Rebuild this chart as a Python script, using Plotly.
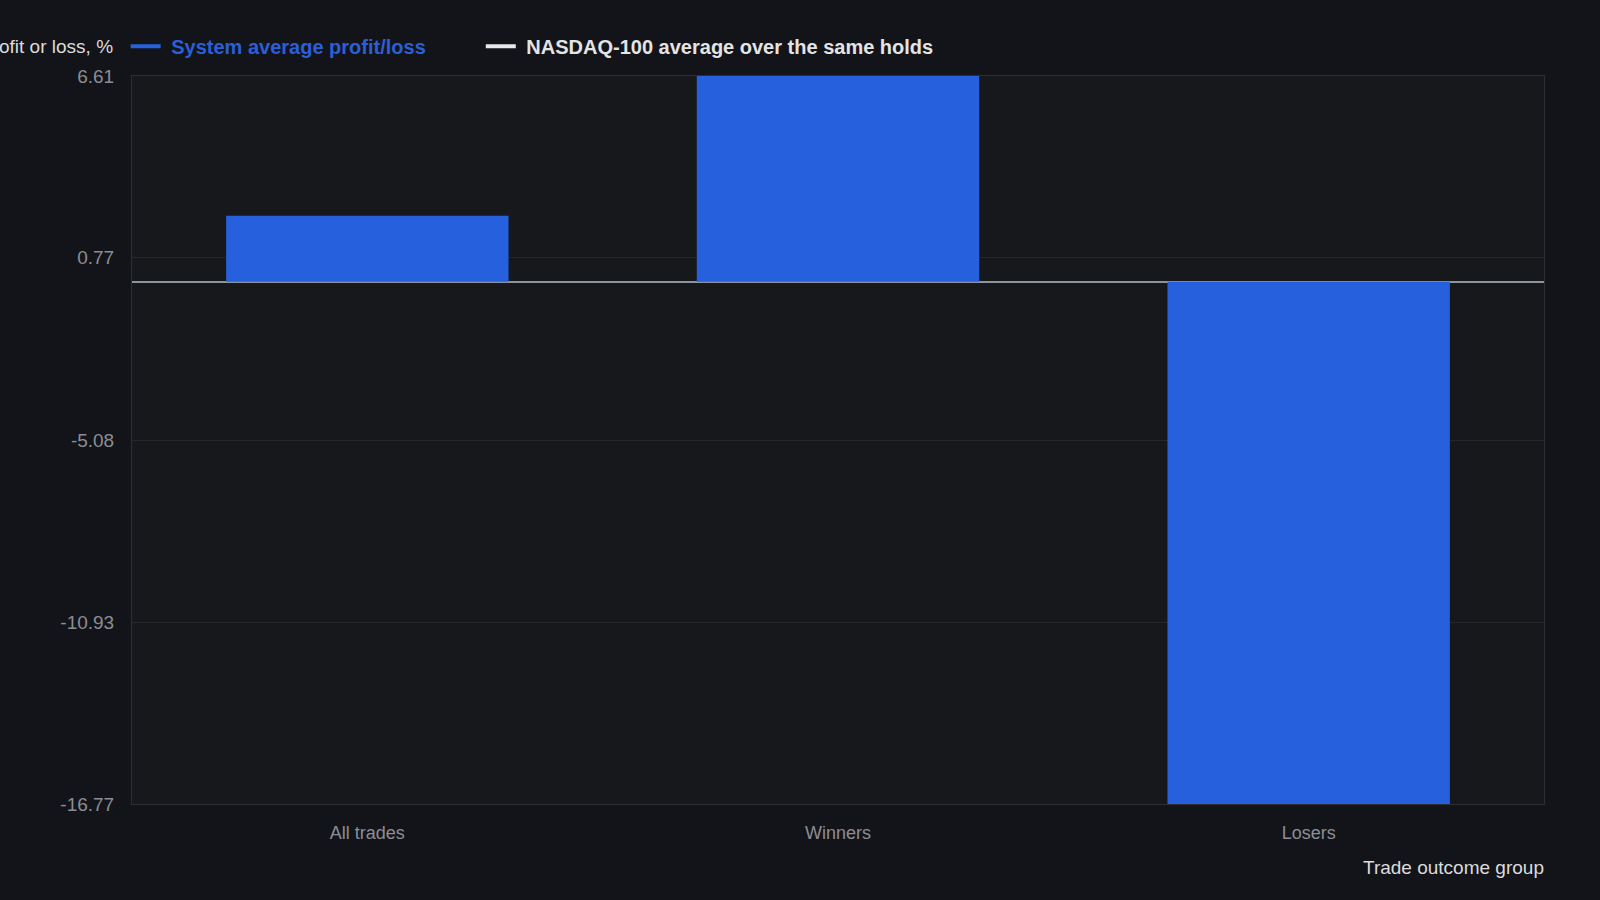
import plotly.graph_objects as go

# Average profit/loss per trade outcome group
categories = ["All trades", "Winners", "Losers"]
system_avg = [2.12, 6.61, -16.77]
nasdaq_avg = [None, None, None]  # not visible in the chart

y_ticks = [6.61, 0.77, -5.08, -10.93, -16.77]
y_tick_labels = ["6.61", "0.77", "-5.08", "-10.93", "-16.77"]

BLUE = "#2760dc"
FONT = "Liberation Sans, Arial, sans-serif"

fig = go.Figure()

fig.add_trace(go.Bar(
    x=categories,
    y=system_avg,
    showlegend=False,
    marker=dict(color=BLUE, line=dict(width=0)),
))

# legend entries are drawn as lines in the original
fig.add_trace(go.Scatter(
    x=categories,
    y=nasdaq_avg,
    mode="lines",
    name="&nbsp;<b><span style='color:#2a5fd8'>System average profit/loss</span></b>" + "&nbsp;" * 9,
    line=dict(color=BLUE, width=4),
))
fig.add_trace(go.Scatter(
    x=categories,
    y=nasdaq_avg,
    mode="lines",
    name="&nbsp;<b>NASDAQ-100 average over the same holds</b>",
    line=dict(color="#e8e8e8", width=4),
))

fig.update_layout(
    width=1600,
    height=900,
    paper_bgcolor="#131419",
    plot_bgcolor="#17181c",
    font=dict(family=FONT, size=18, color="#8b8e94"),
    margin=dict(l=132, r=56, t=76, b=96),
    bargap=0.4,
    showlegend=True,
    legend=dict(
        orientation="h",
        x=-0.0045,
        xanchor="left",
        y=1.041,
        yanchor="middle",
        font=dict(size=20, color="#e4e4e4"),
        bgcolor="rgba(0,0,0,0)",
        itemwidth=30,
    ),
)

fig.update_yaxes(
    range=[-16.77, 6.61],
    tickvals=y_ticks,
    ticktext=y_tick_labels,
    tickfont=dict(size=19),
    gridcolor="#24262b",
    gridwidth=1,
    zeroline=True,
    zerolinecolor="#8b949e",
    zerolinewidth=2,
    showline=True,
    linecolor="#2c2e33",
    mirror=True,
    ticks="",
    ticklabelstandoff=13,
)

fig.update_xaxes(
    showgrid=False,
    showline=True,
    linecolor="#2c2e33",
    mirror=True,
    ticks="",
    ticklabelstandoff=12,
)

# axis titles placed like the original: y title top-left, x title bottom-right
fig.add_annotation(
    text="Profit or loss, %",
    xref="paper", yref="paper",
    x=0, y=1.041,
    xanchor="right", yanchor="middle",
    xshift=-17,
    showarrow=False,
    font=dict(size=19, color="#dcdcdc"),
)
fig.add_annotation(
    text="Trade outcome group",
    xref="paper", yref="paper",
    x=1, y=0,
    xanchor="right", yanchor="middle",
    xshift=2,
    yshift=-63,
    showarrow=False,
    font=dict(size=19, color="#dcdcdc"),
)

fig.write_html(
    "out.html",
    config={"displayModeBar": False},
    post_script="document.body.style.margin='0';",
)
